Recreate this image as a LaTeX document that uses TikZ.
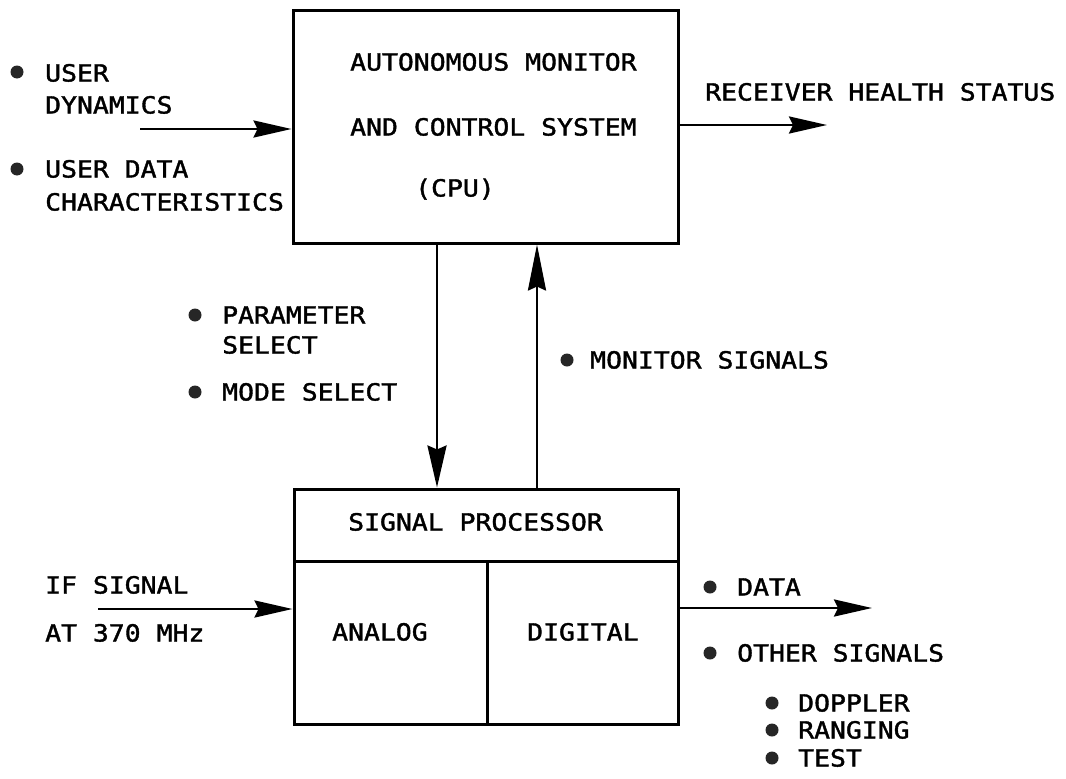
\documentclass[tikz,border=0pt]{standalone}
\usepackage{fontspec}
\usetikzlibrary{arrows.meta}
\newfontfamily\lgfont[FakeStretch=1.12,FakeBold=1.6]{DejaVu Sans Mono}
\begin{document}
\begin{tikzpicture}[x=1pt,y=-1pt,
  box/.style={draw, line width=3pt, rectangle, inner sep=0pt},
  lbl/.style={anchor=base west, inner sep=0pt, font=\lgfont\fontsize{23.6}{28}\selectfont},
  dot/.style={circle, fill=black!85, inner sep=0pt, minimum size=13pt},
  arr/.style={line width=2.8pt, -{Stealth[length=38pt,width=17pt,inset=4pt]}},
  varr/.style={line width=2.8pt, -{Stealth[length=42pt,width=19pt,inset=4pt]}}
]
\useasboundingbox (0,0) rectangle (1066,779);
% boxes
\node[box, minimum width=385pt, minimum height=233pt] (cpu) at (485.5,126.5) {};
\node[box, minimum width=384pt, minimum height=235pt] (sp) at (486,606.5) {};
\coordinate (hl) at (294,561);
\coordinate (hr) at (678,561);
\coordinate (vt) at (487,561);
\coordinate (vb) at (487,724);
\draw[line width=3pt] (hl) -- (hr);
\draw[line width=3pt] (vt) -- (vb);
% CPU text
\node[lbl] (t1) at (350,70.5) {AUTONOMOUS MONITOR};
\node[lbl] (t2) at (350,135.5) {AND CONTROL SYSTEM};
\node[lbl] (t3) at (415,196.5) {(CPU)};
% SP text
\node[lbl] (t4) at (348,530.5) {SIGNAL PROCESSOR};
\node[lbl] (t5) at (332,640.5) {ANALOG};
\node[lbl] (t6) at (527,640.5) {DIGITAL};
% left inputs
\node[dot] (b1) at (17,72) {};
\node[lbl] (u1) at (45,81.5) {USER};
\node[lbl] (u2) at (45,113.5) {DYNAMICS};
\node[dot] (b2) at (17,169) {};
\node[lbl] (u3) at (45,177.5) {USER DATA};
\node[lbl] (u4) at (45,210.5) {CHARACTERISTICS};
\coordinate (ud) at (140,129);
\draw[arr] (ud) -- (cpu.west |- ud);
% right output
\node[lbl] (r1) at (705,100.5) {RECEIVER HEALTH STATUS};
\coordinate (rh) at (827,125);
\draw[arr] (cpu.east |- rh) -- (rh);
% middle
\node[dot] (b3) at (195,315) {};
\node[lbl] (p1) at (222,323.5) {PARAMETER};
\node[lbl] (p2) at (222,353.5) {SELECT};
\node[dot] (b4) at (195,392) {};
\node[lbl] (p3) at (222,400.5) {MODE SELECT};
\node[dot] (b5) at (567,360) {};
\node[lbl] (m1) at (590,368.5) {MONITOR SIGNALS};
\coordinate (dn) at (437,300);
\coordinate (upc) at (537,300);
\draw[varr] (cpu.south -| dn) -- (sp.north -| dn);
\draw[line width=2.8pt, -{Stealth[length=46pt,width=18pt,inset=4pt]}] (sp.north -| upc) -- (cpu.south -| upc);
% IF input
\node[lbl] (i1) at (45,593.5) {IF SIGNAL};
\node[lbl] (i2) at (45,641.5) {AT 370 MHz};
\coordinate (if) at (98,609);
\draw[arr] (if) -- (sp.west |- if);
% data output
\node[dot] (b6) at (710,587) {};
\node[lbl] (d1) at (737,595.5) {DATA};
\coordinate (dt) at (872,608);
\draw[arr] (sp.east |- dt) -- (dt);
\node[dot] (b7) at (710,653) {};
\node[lbl] (d2) at (737,661.5) {OTHER SIGNALS};
\node[dot] (b8) at (772,703) {};
\node[lbl] (d3) at (798,711.5) {DOPPLER};
\node[dot] (b9) at (772,730) {};
\node[lbl] (d4) at (798,738.5) {RANGING};
\node[dot] (b10) at (772,758) {};
\node[lbl] (d5) at (798,766.5) {TEST};
\end{tikzpicture}
\end{document}
